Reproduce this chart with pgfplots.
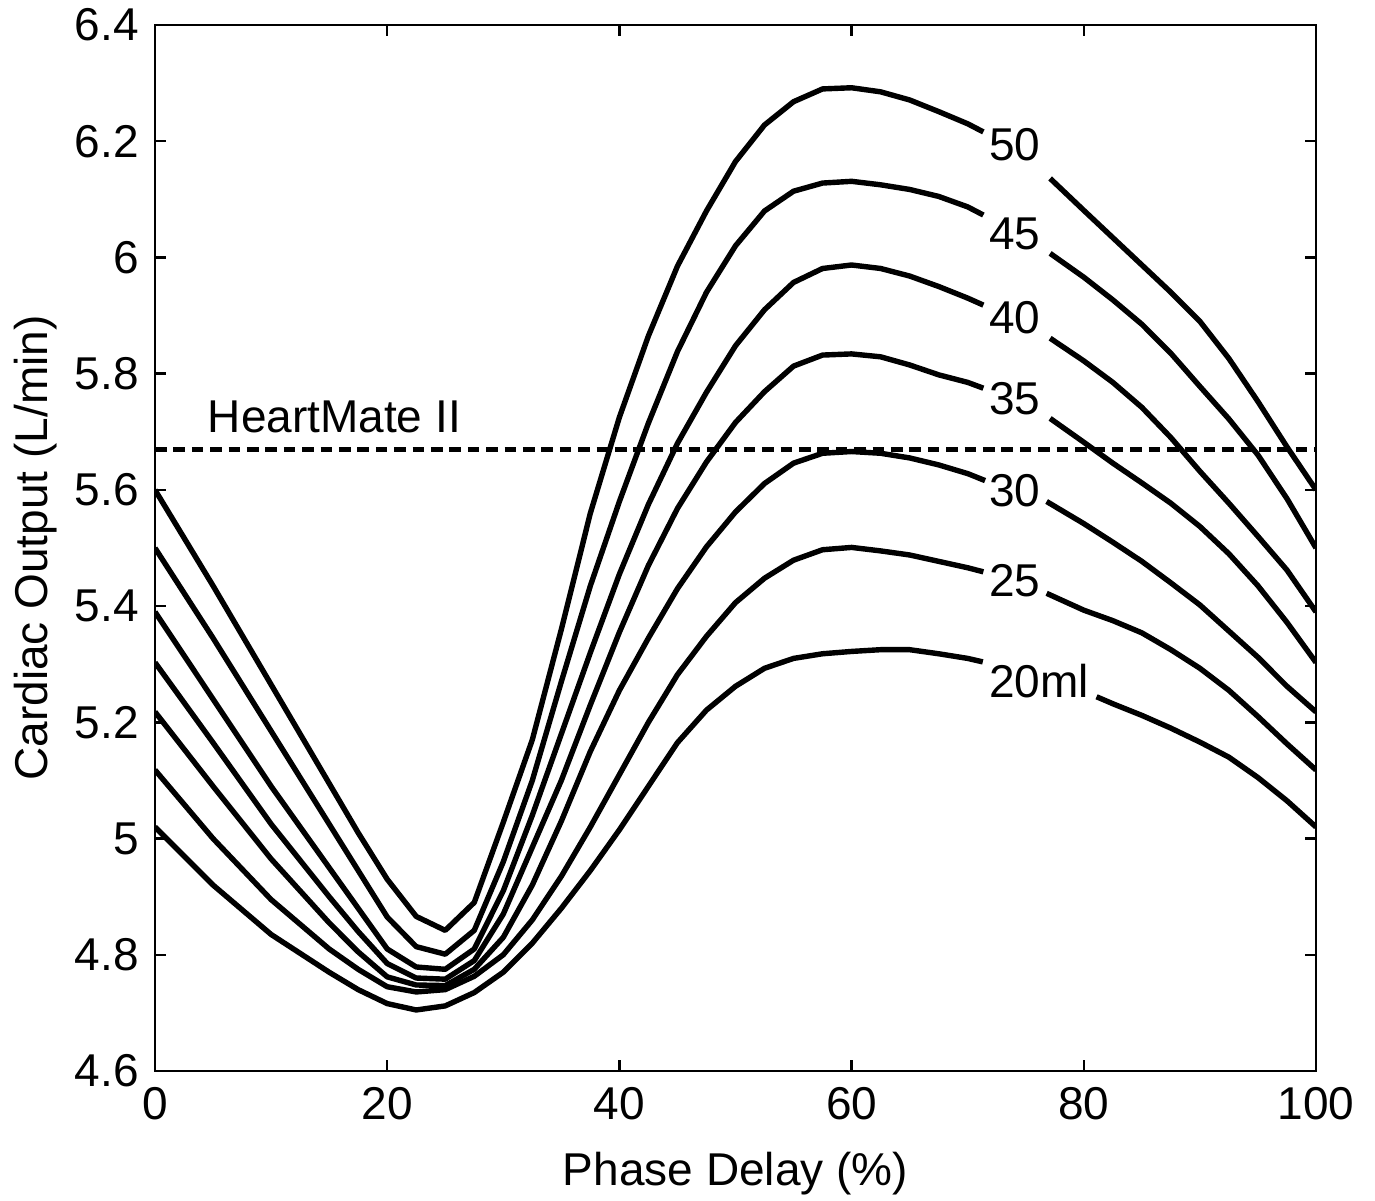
\documentclass[border=0pt]{standalone}
\usepackage{fontspec}
\setmainfont{Liberation Sans}
\usepackage{pgfplots}
\pgfplotsset{compat=1.18}
\begin{document}
\fontsize{11.5}{13}\selectfont
\begin{tikzpicture}[cl/.style={black, solid, line width=1.35pt, line join=round, mark=none}]
\begin{axis}[
  scale only axis, width=290.25pt, height=261.5pt,
  xmin=0, xmax=100, ymin=4.6, ymax=6.4,
  xtick={0,20,40,60,80,100},
  ytick={4.6,4.8,5,5.2,5.4,5.6,5.8,6,6.2,6.4},
  tick align=inside, tick pos=both,
  major tick length=2.75pt,
  tick style={line width=0.6pt, black},
  axis line style={line width=0.6pt},
  /pgf/number format/assume math mode=true,
  ticklabel style={font=\fontsize{11.5}{13}\selectfont},
  xlabel={Phase Delay (\%)}, ylabel={Cardiac Output (L/min)},
  label style={font=\fontsize{11.5}{13}\selectfont},
  xlabel style={at={(axis description cs:0.5,-0.109)}, anchor=base, inner sep=0pt},
  ylabel style={at={(axis description cs:-0.0922,0.5)}, anchor=base, inner sep=0pt},
]
% 50
\addplot[cl] table {
0 5.600
5 5.435
10 5.265
15 5.095
17.5 5.010
20 4.930
22.5 4.866
25 4.842
27.5 4.890
30 5.028
32.5 5.170
35 5.360
37.5 5.560
40 5.725
42.5 5.865
45 5.985
47.5 6.080
50 6.165
52.5 6.228
55 6.268
57.5 6.290
60 6.292
62.5 6.285
65 6.271
67.5 6.251
70 6.230
71.35 6.216
};
\addplot[cl] table {
77.1 6.136
80 6.081
82.5 6.034
85 5.987
87.5 5.940
90 5.890
92.5 5.826
95 5.752
97.5 5.674
100 5.600
};
% 45
\addplot[cl] table {
0 5.500
5 5.345
10 5.185
15 5.025
17.5 4.945
20 4.865
22.5 4.814
25 4.801
27.5 4.842
30 4.960
32.5 5.100
35 5.270
37.5 5.435
40 5.580
42.5 5.715
45 5.838
47.5 5.940
50 6.020
52.5 6.080
55 6.114
57.5 6.128
60 6.131
62.5 6.125
65 6.117
67.5 6.105
70 6.087
71.35 6.073
};
\addplot[cl] table {
77.1 6.007
80 5.966
82.5 5.927
85 5.885
87.5 5.835
90 5.778
92.5 5.722
95 5.660
97.5 5.585
100 5.500
};
% 40
\addplot[cl] table {
0 5.390
5 5.240
10 5.090
15 4.950
17.5 4.880
20 4.810
22.5 4.779
25 4.775
27.5 4.810
30 4.910
32.5 5.040
35 5.180
37.5 5.320
40 5.455
42.5 5.575
45 5.680
47.5 5.768
50 5.848
52.5 5.910
55 5.957
57.5 5.981
60 5.987
62.5 5.981
65 5.968
67.5 5.950
70 5.930
71.35 5.918
};
\addplot[cl] table {
77.1 5.861
80 5.822
82.5 5.785
85 5.742
87.5 5.690
90 5.632
92.5 5.577
95 5.520
97.5 5.462
100 5.390
};
% 35
\addplot[cl] table {
0 5.303
5 5.165
10 5.025
15 4.900
17.5 4.840
20 4.785
22.5 4.760
25 4.758
27.5 4.790
30 4.870
32.5 4.985
35 5.100
37.5 5.230
40 5.355
42.5 5.470
45 5.568
47.5 5.648
50 5.716
52.5 5.769
55 5.813
57.5 5.832
60 5.834
62.5 5.829
65 5.815
67.5 5.798
70 5.785
71.35 5.775
};
\addplot[cl] table {
77.1 5.723
80 5.682
82.5 5.646
85 5.612
87.5 5.577
90 5.537
92.5 5.490
95 5.435
97.5 5.372
100 5.303
};
% 30
\addplot[cl] table {
0 5.218
5 5.090
10 4.965
15 4.855
17.5 4.805
20 4.762
22.5 4.748
25 4.747
27.5 4.775
30 4.830
32.5 4.920
35 5.030
37.5 5.150
40 5.255
42.5 5.345
45 5.430
47.5 5.502
50 5.562
52.5 5.611
55 5.646
57.5 5.663
60 5.666
62.5 5.663
65 5.655
67.5 5.643
70 5.628
71.5 5.616
};
\addplot[cl] table {
76.8 5.580
80 5.542
82.5 5.510
85 5.477
87.5 5.440
90 5.402
92.5 5.357
95 5.312
97.5 5.262
100 5.218
};
% 25
\addplot[cl] table {
0 5.118
5 5.000
10 4.895
15 4.810
17.5 4.775
20 4.745
22.5 4.736
25 4.740
27.5 4.763
30 4.800
32.5 4.860
35 4.935
37.5 5.020
40 5.110
42.5 5.200
45 5.282
47.5 5.348
50 5.406
52.5 5.448
55 5.479
57.5 5.497
60 5.501
62.5 5.495
65 5.488
67.5 5.477
70 5.466
71.35 5.459
};
\addplot[cl] table {
76.8 5.422
80 5.393
82.5 5.375
85 5.354
87.5 5.325
90 5.293
92.5 5.255
95 5.210
97.5 5.163
100 5.118
};
% 20
\addplot[cl] table {
0 5.020
5 4.920
10 4.835
15 4.770
17.5 4.740
20 4.716
22.5 4.705
25 4.712
27.5 4.735
30 4.770
32.5 4.820
35 4.880
37.5 4.945
40 5.015
42.5 5.090
45 5.165
47.5 5.221
50 5.262
52.5 5.293
55 5.310
57.5 5.318
60 5.322
62.5 5.325
65 5.325
67.5 5.318
70 5.310
71.3 5.304
};
\addplot[cl] table {
81.1 5.244
82.5 5.232
85 5.212
87.5 5.190
90 5.166
92.5 5.140
95 5.105
97.5 5.065
100 5.020
};
% HeartMate II
\addplot[black, line width=1.35pt, mark=none, dash pattern=on 2.9pt off 1.7pt] coordinates {(0,5.669) (100,5.669)};
\node[anchor=base west, inner sep=0pt] at (axis cs:4.48,5.6996) {HeartMate II};
\node[inner sep=0pt] at (axis cs:74.07,6.1935) {50};
\node[inner sep=0pt] at (axis cs:74.07,6.0400) {45};
\node[inner sep=0pt] at (axis cs:74.07,5.8966) {40};
\node[inner sep=0pt] at (axis cs:74.07,5.7576) {35};
\node[inner sep=0pt] at (axis cs:74.07,5.5985) {30};
\node[inner sep=0pt] at (axis cs:74.07,5.4436) {25};
\node[inner sep=0pt] at (axis cs:76.16,5.2716) {20ml};
\end{axis}
\pgfresetboundingbox
\path (current axis.south west) ++(-38.75pt,-32.5pt) rectangle ++(343.75pt,300.25pt);
\end{tikzpicture}
\end{document}
